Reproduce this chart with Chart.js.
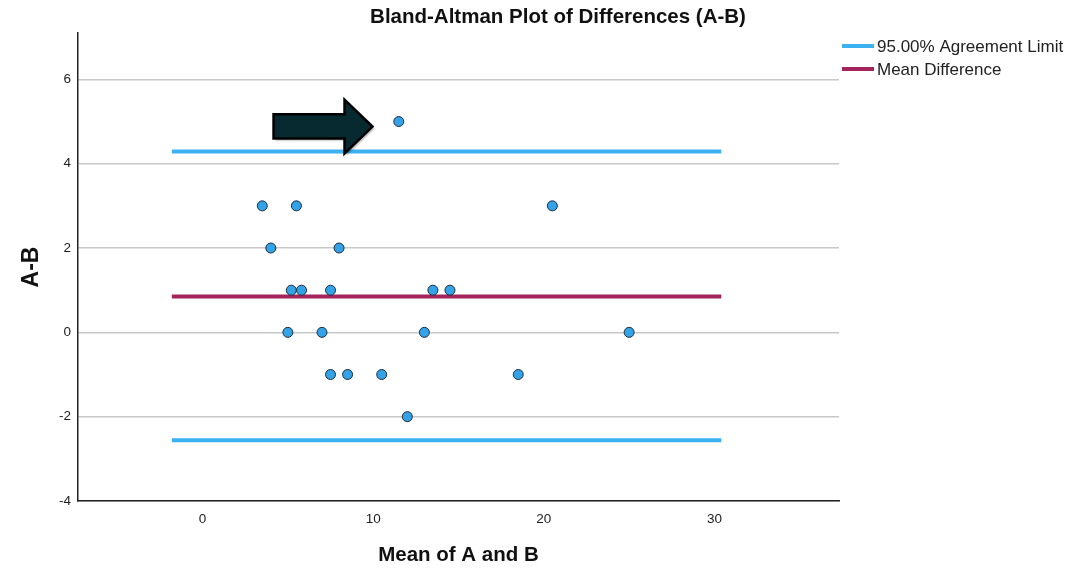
<!DOCTYPE html>
<html>
<head>
<meta charset="utf-8">
<script src="https://cdn.jsdelivr.net/npm/chart.js@4"></script>
<style>
  body { margin: 0; background: #fff; }
  #wrap { width: 1091px; height: 568px; }
</style>
</head>
<body>
<div id="wrap"><canvas id="ba_chart"></canvas></div>
<script>
// data
let meanAB = [3.5, 5.5, 20.5, 4, 8, 5.2, 5.8, 7.5, 13.5, 14.5, 5, 7, 13, 25, 7.5, 8.5, 10.5, 18.5, 12, 11.5];
let diffAB = [3, 3, 3, 2, 2, 1, 1, 1, 1, 1, 0, 0, 0, 0, -1, -1, -1, -1, -2, 5];
let meanDiff = 0.85;
let upperLimit = 4.29;
let lowerLimit = -2.56;
let lineX = [-1.8, 30.4];
let xTicks = [0, 10, 20, 30];
let yTicks = [-4, -2, 0, 2, 4, 6];
let legendLabels = ["95.00% Agreement Limit", "Mean Difference"];
// arrow annotation, in data units
let arrowX = [4.16, 8.32, 9.96];
let arrowY = [5.52, 5.17, 4.88, 4.60, 4.24];

const FONT = "'Liberation Sans', Arial, sans-serif";
const BLUE = "#3cb1f2";
const MAROON = "#a3245a";

let points = meanAB.map((x, i) => ({ x: x, y: diffAB[i] }));
let hline = (y) => lineX.map(x => ({ x: x, y: y }));

let extras = {
    id: "extras",
    afterDatasetsDraw(chart) {
        const ctx = chart.ctx;
        const sx = chart.scales.x, sy = chart.scales.y;
        const X = v => sx.getPixelForValue(v), Y = v => sy.getPixelForValue(v);
        ctx.save();
        ctx.beginPath();
        ctx.moveTo(X(arrowX[0]), Y(arrowY[1]));
        ctx.lineTo(X(arrowX[1]), Y(arrowY[1]));
        ctx.lineTo(X(arrowX[1]), Y(arrowY[0]));
        ctx.lineTo(X(arrowX[2]), Y(arrowY[2]));
        ctx.lineTo(X(arrowX[1]), Y(arrowY[4]));
        ctx.lineTo(X(arrowX[1]), Y(arrowY[3]));
        ctx.lineTo(X(arrowX[0]), Y(arrowY[3]));
        ctx.closePath();
        ctx.shadowColor = "rgba(0,0,0,0.3)";
        ctx.shadowOffsetX = 2;
        ctx.shadowOffsetY = 2;
        ctx.shadowBlur = 2;
        ctx.fillStyle = "#062a30";
        ctx.fill();
        ctx.shadowColor = "transparent";
        ctx.lineWidth = 2.5;
        ctx.lineJoin = "miter";
        ctx.strokeStyle = "#000";
        ctx.stroke();
        ctx.restore();
    },
    afterDraw(chart) {
        const ctx = chart.ctx;
        ctx.save();
        ctx.fillStyle = "#111";
        ctx.font = "bold 20.5px " + FONT;
        ctx.textAlign = "center";
        ctx.textBaseline = "middle";
        ctx.fillText("Bland-Altman Plot of Differences (A-B)", 558, 17);

        let cols = [BLUE, MAROON];
        ctx.font = "17px " + FONT;
        ctx.textAlign = "left";
        legendLabels.forEach((t, i) => {
            let y = 46 + i * 23;
            ctx.fillStyle = cols[i];
            ctx.fillRect(842, y - 2, 32, 4);
            ctx.fillStyle = "#222";
            ctx.fillText(t, 877, y + 1);
        });
        ctx.restore();
    }
};

new Chart("ba_chart", {
    type: "scatter",
    data: {
        datasets: [
            {
                data: points,
                backgroundColor: "#34a2e6",
                borderColor: "#1c2d3c",
                borderWidth: 1,
                pointRadius: 5,
                showLine: false
            },
            {
                data: hline(meanDiff),
                showLine: true,
                borderColor: MAROON,
                borderWidth: 4,
                pointRadius: 0
            },
            {
                data: hline(upperLimit),
                showLine: true,
                borderColor: BLUE,
                borderWidth: 4,
                pointRadius: 0
            },
            {
                data: hline(lowerLimit),
                showLine: true,
                borderColor: BLUE,
                borderWidth: 4,
                pointRadius: 0
            }
        ]
    },
    options: {
        responsive: true,
        maintainAspectRatio: false,
        animation: false,
        layout: { padding: { left: 0, right: 252, top: 33, bottom: 0 } },
        plugins: {
            legend: { display: false },
            title: { display: false },
            tooltip: { enabled: false }
        },
        scales: {
            x: {
                type: "linear",
                min: -7.3,
                max: 37.3,
                afterBuildTicks: s => { s.ticks = xTicks.map(v => ({ value: v })) },
                afterFit: s => { s.height = 67 },
                ticks: { padding: 10, color: "#222", font: { family: FONT, size: 13.5 }, maxRotation: 0 },
                grid: { display: false, drawTicks: false },
                border: { display: true, color: "#222", width: 1.5 },
                title: {
                    display: true,
                    text: "Mean of A and B",
                    color: "#111",
                    font: { family: FONT, size: 20.5, weight: "bold" },
                    padding: { top: 0, bottom: 0 }
                }
            },
            y: {
                type: "linear",
                min: -4,
                max: 7.1,
                afterBuildTicks: s => { s.ticks = yTicks.map(v => ({ value: v })) },
                afterFit: s => { s.width = 78 },
                ticks: { padding: 7, color: "#222", font: { family: FONT, size: 13.5 } },
                grid: { color: "#c8c8c8", lineWidth: 1.5, drawTicks: false },
                border: { display: true, color: "#222", width: 1.5 },
                title: {
                    display: true,
                    text: "A-B",
                    color: "#111",
                    font: { family: FONT, size: 23, weight: "bold" },
                    padding: { top: 18, bottom: 0 }
                }
            }
        }
    },
    plugins: [extras]
});
</script>
</body>
</html>
